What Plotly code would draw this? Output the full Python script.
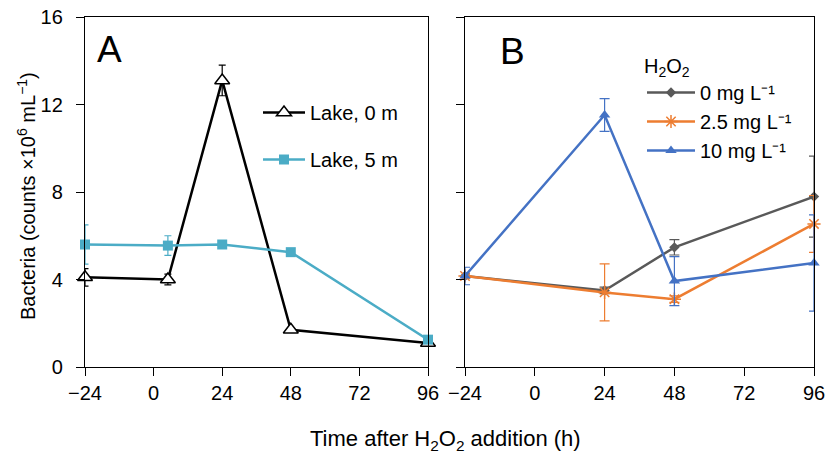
import plotly.graph_objects as go

# ---- data ----
time_a = [-24, 5, 24, 48, 96]
lake0 = [4.1, 4.0, 13.1, 1.7, 1.1]
lake0_err = [0.4, 0.25, 0.7, 0, 0]
lake5 = [5.6, 5.55, 5.6, 5.25, 1.25]
lake5_err = [0.9, 0.45, 0, 0.1, 0]

time_b = [-24, 24, 48, 96]
h2o2_0 = [4.16, 3.5, 5.47, 7.79]
h2o2_0_err = [0.1, 0.15, 0.35, 1.85]
h2o2_25 = [4.16, 3.41, 3.1, 6.54]
h2o2_25_err = [0.1, 1.3, 0.15, 1.3]
h2o2_10 = [4.16, 11.52, 3.93, 4.75]
h2o2_10_err = [0.4, 0.75, 1.12, 2.2]

x_ticks = [-24, 0, 24, 48, 72, 96]
y_ticks = [0, 4, 8, 12, 16]

W, H = 828, 455
FONT = "Liberation Sans, Arial, sans-serif"

BLACK = "#000000"
TEAL = "#4BACC6"
GRAY = "#595959"
ORANGE = "#ED7D31"
BLUE = "#4472C4"

fig = go.Figure()

def err(vals, color, w):
    return dict(type="data", array=vals, visible=True, color=color, thickness=1.2, width=w)

# Panel A
fig.add_trace(go.Scatter(
    x=time_a, y=lake0, name="Lake, 0 m", mode="lines+markers",
    line=dict(color=BLACK, width=2.5),
    marker=dict(symbol="triangle-up", size=13, color="white", line=dict(color=BLACK, width=1.5)),
    error_y=err(lake0_err, BLACK, 3.5), xaxis="x", yaxis="y",
    legend="legend", legendgroup="a0", cliponaxis=False))
fig.add_trace(go.Scatter(
    x=time_a, y=lake5, name="Lake, 5 m", mode="lines+markers",
    line=dict(color=TEAL, width=2.5),
    marker=dict(symbol="square", size=10, color=TEAL),
    error_y=err(lake5_err, TEAL, 3.5), xaxis="x", yaxis="y",
    legend="legend", legendgroup="a5", cliponaxis=False))

# Panel B
fig.add_trace(go.Scatter(
    x=time_b, y=h2o2_0, name="0 mg L\u207b\u00b9", mode="lines+markers",
    line=dict(color=GRAY, width=2.5),
    marker=dict(symbol="diamond", size=8, color=GRAY),
    error_y=err(h2o2_0_err, GRAY, 5), xaxis="x2", yaxis="y2",
    legend="legend2", cliponaxis=False))
fig.add_trace(go.Scatter(
    x=time_b, y=h2o2_25, name="2.5 mg L\u207b\u00b9", mode="lines+markers",
    line=dict(color=ORANGE, width=2.5),
    marker=dict(symbol="asterisk-open", size=11, color=ORANGE, line=dict(color=ORANGE, width=1.5)),
    error_y=err(h2o2_25_err, ORANGE, 5), xaxis="x2", yaxis="y2",
    legend="legend2", cliponaxis=False))
fig.add_trace(go.Scatter(
    x=time_b, y=h2o2_10, name="10 mg L\u207b\u00b9", mode="lines+markers",
    line=dict(color=BLUE, width=2.5),
    marker=dict(symbol="triangle-up", size=10, color=BLUE),
    error_y=err(h2o2_10_err, BLUE, 5), xaxis="x2", yaxis="y2",
    legend="legend2", cliponaxis=False))

def px_x(p):
    return p / W

def px_y(p):
    return 1 - p / H

axis_common = dict(
    showline=True, linecolor="black", linewidth=1.3, mirror=True,
    ticks="outside", ticklen=8, tickwidth=1.3, tickcolor="black",
    showgrid=False, zeroline=False,
    tickfont=dict(family=FONT, size=20, color="black"),
    automargin=False,
)

fig.update_layout(
    width=W, height=H,
    margin=dict(l=0, r=0, t=0, b=0),
    paper_bgcolor="white", plot_bgcolor="white",
    font=dict(family=FONT, size=20, color="black"),
    xaxis=dict(domain=[px_x(85), px_x(428)], range=[-24, 96], tickvals=x_ticks,
               anchor="y", **axis_common),
    yaxis=dict(domain=[px_y(367), px_y(17)], range=[0, 16], tickvals=y_ticks,
               anchor="x", ticklabelstandoff=9, **axis_common),
    xaxis2=dict(domain=[px_x(465), px_x(814)], range=[-24, 96], tickvals=x_ticks,
                anchor="y2", **axis_common),
    yaxis2=dict(domain=[px_y(367), px_y(17)], range=[0, 16], tickvals=y_ticks,
                showticklabels=False, anchor="x2", **axis_common),
    legend=dict(x=px_x(258), y=px_y(93), xanchor="left", yanchor="top",
                bgcolor="rgba(0,0,0,0)", borderwidth=0, itemwidth=42,
                traceorder="grouped", tracegroupgap=18,
                font=dict(family=FONT, size=20, color="black")),
    legend2=dict(x=px_x(642), y=px_y(47), xanchor="left", yanchor="top",
                 bgcolor="rgba(0,0,0,0)", borderwidth=0, itemwidth=48,
                 tracegroupgap=0,
                 title=dict(text="H<sub>2</sub>O<sub>2</sub>", side="top",
                            font=dict(family=FONT, size=20, color="black")),
                 font=dict(family=FONT, size=20, color="black")),
    annotations=[
        dict(text="A", x=px_x(109), y=px_y(49), xref="paper", yref="paper",
             showarrow=False, font=dict(family=FONT, size=37, color="black"),
             xanchor="center", yanchor="middle"),
        dict(text="B", x=px_x(512), y=px_y(51), xref="paper", yref="paper",
             showarrow=False, font=dict(family=FONT, size=37, color="black"),
             xanchor="center", yanchor="middle"),
        dict(text="Bacteria (counts \u00d710<sup>6</sup> mL<sup>\u22121</sup>)",
             x=px_x(26), y=px_y(196), xref="paper", yref="paper", textangle=-90,
             showarrow=False, font=dict(family=FONT, size=20, color="black"),
             xanchor="center", yanchor="middle"),
        dict(text="Time after H<sub>2</sub>O<sub>2</sub> addition (h)",
             x=px_x(446), y=px_y(440), xref="paper", yref="paper",
             showarrow=False, font=dict(family=FONT, size=22, color="black"),
             xanchor="center", yanchor="middle"),
    ],
)

fig.write_html(
    "out.html",
    config={"displayModeBar": False},
    post_script="document.body.style.margin='0px';document.body.style.overflow='hidden';",
)
